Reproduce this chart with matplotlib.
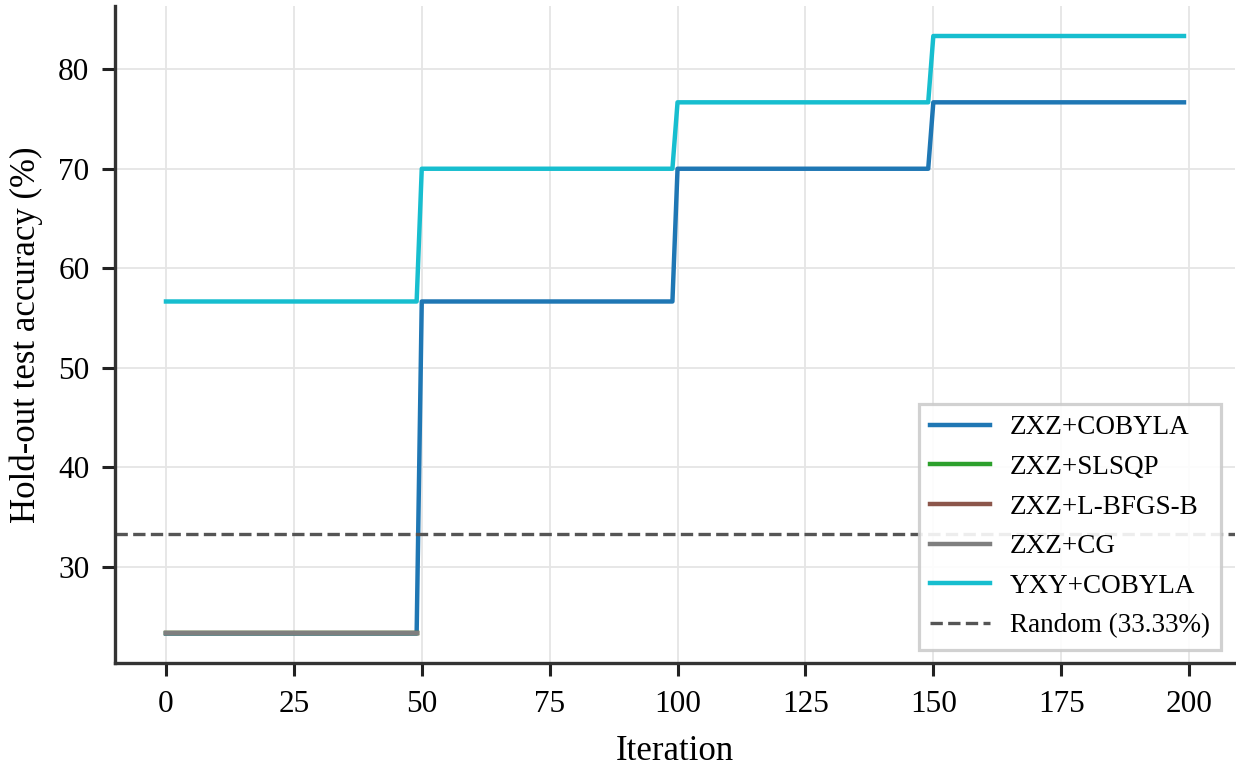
import numpy as np
import matplotlib
matplotlib.use("Agg")
import matplotlib.pyplot as plt

plt.rcParams['font.family'] = ['Liberation Serif', 'DejaVu Serif']

# Hold-out accuracy levels per 50-iteration stage
iters_full = np.arange(200)
iters_short = np.arange(50)
zxz_cobyla_levels = [23.33, 56.67, 70.00, 76.67]
yxy_cobyla_levels = [56.67, 70.00, 76.67, 83.33]
zxz_slsqp_levels = [23.33]
zxz_lbfgsb_levels = [23.33]
zxz_cg_levels = [23.33]
random_baseline = 33.33

def expand(levels, n_per=50):
    return np.repeat(levels, n_per)

series = [
    ("ZXZ+COBYLA", iters_full, expand(zxz_cobyla_levels), "#1f77b4"),
    ("ZXZ+SLSQP", iters_short, expand(zxz_slsqp_levels), "#2ca02c"),
    ("ZXZ+L-BFGS-B", iters_short, expand(zxz_lbfgsb_levels), "#8c564b"),
    ("ZXZ+CG", iters_short, expand(zxz_cg_levels), "#7f7f7f"),
    ("YXY+COBYLA", iters_full, expand(yxy_cobyla_levels), "#17becf"),
]

fig = plt.figure(figsize=(12.36, 7.66), dpi=100)
ax = fig.add_axes([0.0931, 0.134, 0.906, 0.858])

for name, x, y, c in series:
    ax.plot(x, y, color=c, lw=3.2, label=name)
ax.axhline(random_baseline, color="#555555", ls="--", lw=2.4,
           label=f"Random ({random_baseline:.2f}%)")

ax.set_xticks(np.arange(0, 201, 25))
ax.set_yticks(np.arange(30, 81, 10))
ax.grid(True, color="#e5e5e5", lw=1.3)
ax.set_axisbelow(True)
for s in ("top", "right"):
    ax.spines[s].set_visible(False)
for s in ("left", "bottom"):
    ax.spines[s].set_linewidth(2.4)
    ax.spines[s].set_color("#333333")
ax.tick_params(axis="both", labelsize=22.5, width=2.2, length=9.5, color="#222222")
ax.tick_params(axis="x", pad=9.5)
ax.tick_params(axis="y", pad=9)
ax.set_xlabel("Iteration", fontsize=25, labelpad=12)
ax.set_ylabel("Hold-out test accuracy (%)", fontsize=25, labelpad=11)

leg = ax.legend(loc="lower right", fontsize=19.5, fancybox=False,
                framealpha=0.9, edgecolor="#cccccc", handlelength=2.2,
                handletextpad=0.75, borderpad=0.42, labelspacing=0.54)
leg.get_frame().set_linewidth(2.3)

fig.savefig("out.png", dpi=100)
